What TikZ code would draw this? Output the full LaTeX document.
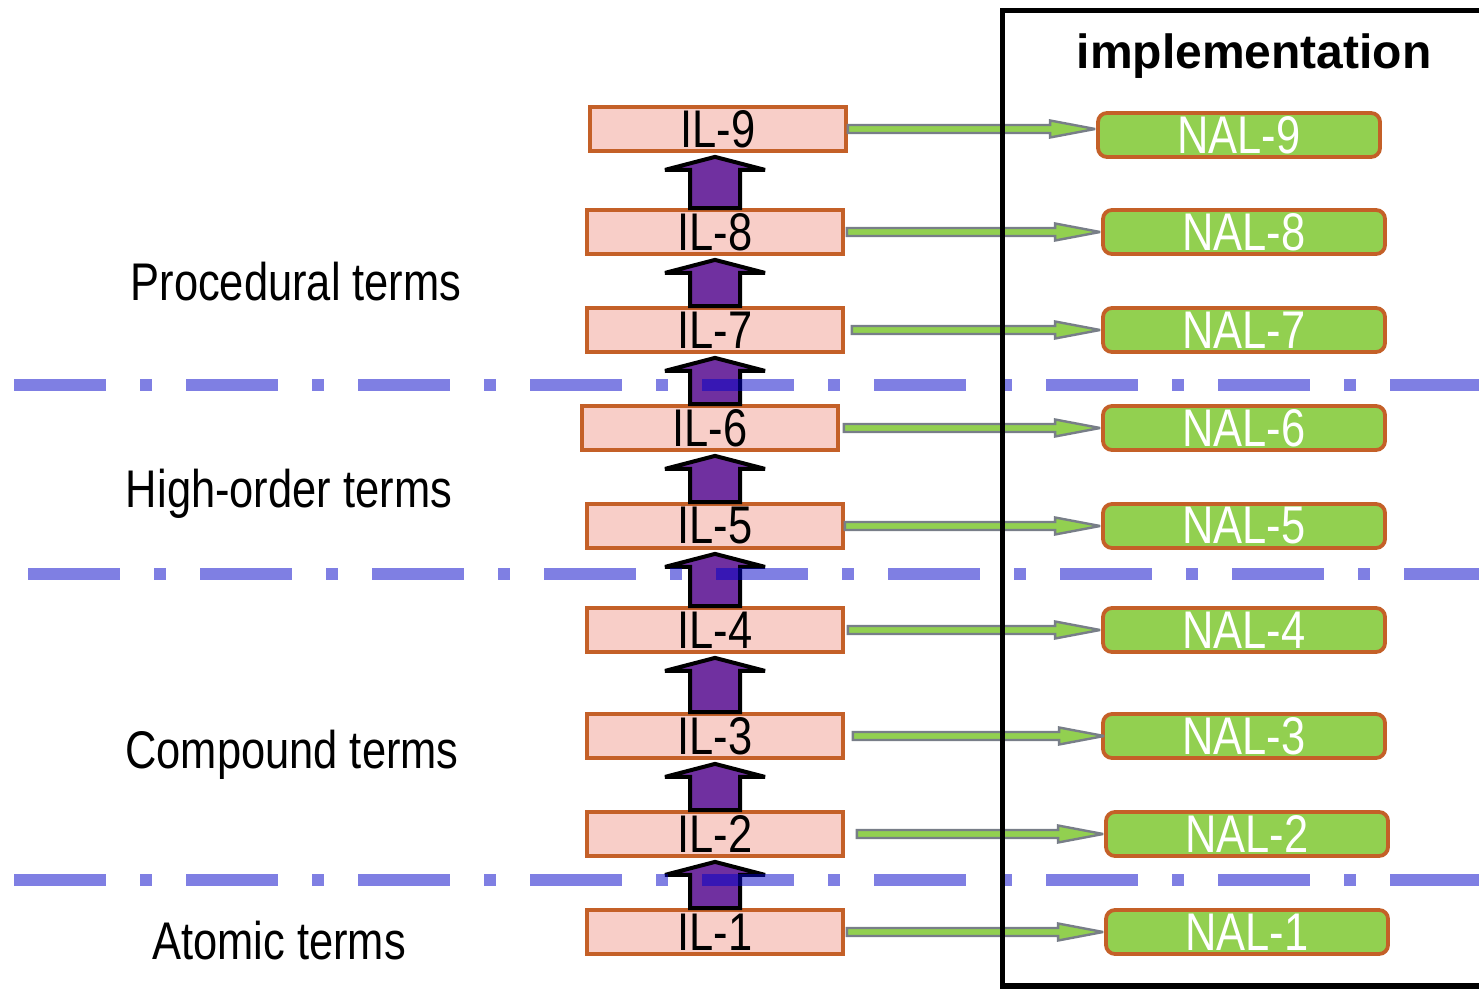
\documentclass[tikz,border=0pt]{standalone}
\usepackage{fontspec}
\setmainfont{Liberation Sans}[FakeStretch=0.82]
\newfontfamily\headfont{Liberation Sans}
\usepackage{tikz}
\usetikzlibrary{
  positioning,
  calc
}
\definecolor{blush}{RGB}{248,206,200}
\definecolor{rust}{RGB}{196,96,40}
\definecolor{leaf}{RGB}{146,208,80}
\definecolor{slate}{RGB}{120,126,136}
\definecolor{grape}{RGB}{112,48,160}
\definecolor{tier}{RGB}{0,0,200}

\begin{document}
\begin{tikzpicture}[x=1pt,y=1pt,
    il/.style={draw=rust,fill=blush,line width=3.8pt,minimum width=256pt,minimum height=44pt,inner sep=0pt,font=\fontsize{53}{53}\selectfont},
    nal/.style={il,fill=leaf,rounded corners=9pt,minimum width=282pt,text=white},
    termlabel/.style={anchor=base,font=\fontsize{53}{53}\selectfont},
    lift/.style={draw=black,fill=grape,line width=4pt,miter limit=1.5,
      to path={let \p1=(\tikztostart),\p2=(\tikztotarget),\p3=(spine) in
        (\x3-25pt,\y1) -- (\x3-25pt,\y2-17pt) -- (\x3-50pt,\y2-17pt) -- (\x3,\y2-4pt)
        -- (\x3+50pt,\y2-17pt) -- (\x3+25pt,\y2-17pt) -- (\x3+25pt,\y1) -- cycle}},
    feed/.style={draw=slate,fill=leaf,line width=2.4pt,miter limit=3,
      to path={let \p1=(\tikztostart),\p2=(\tikztotarget) in
        (\x1,\y1+4pt) -- (\x2-46pt,\y1+4pt) -- (\x2-46pt,\y1+8.5pt) -- (\x2-1pt,\y1)
        -- (\x2-46pt,\y1-8.5pt) -- (\x2-46pt,\y1-4pt) -- (\x1,\y1-4pt) -- cycle}},
    tierline/.style={draw=tier,opacity=0.5,line width=12pt,dash pattern=on 92pt off 34pt on 12pt off 34pt}]
        \useasboundingbox (0,0) rectangle (1479,991);
        \coordinate (spine) at (715,0);

        \node[il] (il9) at (718,862) {IL-9};
        \node[il] (il8) at (715,759) {IL-8};
        \node[il] (il7) at (715,661) {IL-7};
        \node[il] (il6) at (710,563) {IL-6};
        \node[il] (il5) at (715,465) {IL-5};
        \node[il] (il4) at (715,361) {IL-4};
        \node[il] (il3) at (715,255) {IL-3};
        \node[il] (il2) at (715,157) {IL-2};
        \node[il] (il1) at (715,59) {IL-1};

        \node[nal] (nal9) at (1239,856) {NAL-9};
        \node[nal] (nal8) at (1244,759) {NAL-8};
        \node[nal] (nal7) at (1244,661) {NAL-7};
        \node[nal] (nal6) at (1244,563) {NAL-6};
        \node[nal] (nal5) at (1244,465) {NAL-5};
        \node[nal] (nal4) at (1244,361) {NAL-4};
        \node[nal] (nal3) at (1244,255) {NAL-3};
        \node[nal] (nal2) at (1247,157) {NAL-2};
        \node[nal] (nal1) at (1247,59) {NAL-1};

        \draw[feed] (il9.east) to (nal9.west);
        \draw[feed] ([xshift=2pt]il8.east) to (nal8.west);
        \draw[feed] ([xshift=7pt]il7.east) to (nal7.west);
        \draw[feed] ([xshift=4pt]il6.east) to (nal6.west);
        \draw[feed] (il5.east) to (nal5.west);
        \draw[feed] ([xshift=3pt]il4.east) to (nal4.west);
        \draw[feed] ([xshift=8pt]il3.east) to ([xshift=4pt]nal3.west);
        \draw[feed] ([xshift=12pt]il2.east) to (nal2.west);
        \draw[feed] ([xshift=2pt]il1.east) to (nal1.west);

        \draw[lift] (il1.north) to (il2.south);
        \draw[lift] (il2.north) to (il3.south);
        \draw[lift] (il3.north) to (il4.south);
        \draw[lift] (il4.north) to (il5.south);
        \draw[lift] (il5.north) to (il6.south);
        \draw[lift] (il6.north) to (il7.south);
        \draw[lift] (il7.north) to (il8.south);
        \draw[lift] (il8.north) to (il9.south);

        \draw[tierline] (14,606) -- (1479,606);
        \draw[tierline] (28,417) -- (1479,417);
        \draw[tierline] (14,111) -- (1479,111);

        \draw[line width=5.5pt] (1500,980.5) -- (1002.5,980.5) -- (1002.5,5) -- (1500,5);
        \node[anchor=base,font=\headfont\bfseries\fontsize{48}{48}\selectfont] (impl) at (1254,922) {implementation};

        \node[termlabel] (proc) at (296,690) {Procedural terms};
        \node[termlabel] (high) at (289,483) {High-order terms};
        \node[termlabel] (comp) at (292,223) {Compound terms};
        \node[termlabel] (atom) at (279,32) {Atomic terms};
    \end{tikzpicture}
\end{document}
